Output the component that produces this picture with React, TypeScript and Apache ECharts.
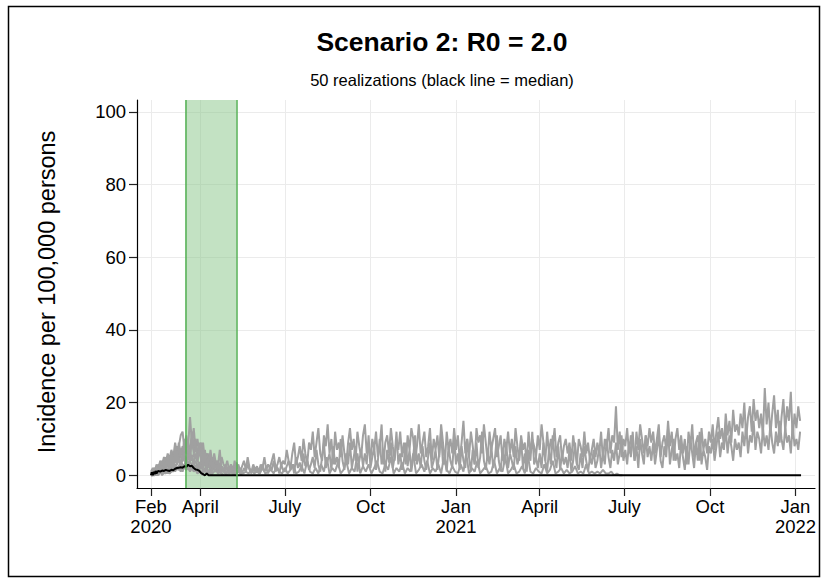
import React, { useEffect, useRef } from 'react';
import * as echarts from 'echarts';

// ---------- DATA ----------
const START = Date.UTC(2020, 1, 8); // first simulated day
const dayOf = (s: string) => Math.round((Date.parse(s + 'T00:00:00Z') - START) / 86400000);

const tickDates = ['2020-02-08', '2020-04-01', '2020-07-01', '2020-10-01', '2021-01-01', '2021-04-01', '2021-07-01', '2021-10-01', '2022-01-01'];
const tickLabels = ['Feb\n2020', 'April', 'July', 'Oct', 'Jan\n2021', 'April', 'July', 'Oct', 'Jan\n2022'];
const yTicks = [0, 20, 40, 60, 80, 100];
const bandDates = ['2020-03-16', '2020-05-10'];
const xRange = ['2020-01-24', '2022-01-22'];
const yRange = [-3.5, 103.3];

// persistent realizations, one value every 2 days from 2020-02-08
const p1Values = [
  0.5, 1.5, 0.5, 2, 1, 2.5, 1.5, 3, 2, 4, 2.5,
  5, 3, 6, 4, 8, 5, 4, 9, 6, 7, 5, 10, 6, 8, 4, 7,
  5, 3, 6, 2, 5, 4, 2, 6, 3, 4, 2, 5, 3, 2, 4,
  1.5, 3, 2, 1, 3.5, 2, 1, 2.5, 4, 1.5, 5, 2, 1, 3, 1.5,
  2.5, 1, 3, 2, 5, 1.5, 3, 2, 4, 6, 2, 3, 5, 2.5, 4,
  3, 7, 4, 2, 6, 9, 3, 5, 8, 4, 10, 6, 3, 9, 7, 12,
  5, 9, 13, 6, 4, 11, 8, 14, 6, 10, 3, 12, 7, 9, 5,
  11, 6, 3, 9, 13, 7, 10, 4, 12, 8, 5, 11, 14, 6, 9,
  4, 10, 7, 12, 5, 8, 14, 3, 9, 11, 6, 13, 8, 4, 10, 7,
  12, 5, 9, 3, 11, 7, 13, 10, 4, 8, 14, 6, 9, 12, 5,
  8, 13, 4, 10, 7, 11, 5, 14, 9, 3, 12, 7, 10, 6, 13,
  7, 11, 4, 9, 15, 6, 10, 5, 12, 8, 3, 13, 9, 11, 6, 14,
  9, 4, 12, 7, 10, 13, 5, 8, 11, 4, 10, 7, 12, 6,
  10, 5, 13, 8, 4, 11, 7, 9, 3, 12, 6, 10, 8, 5, 11,
  7, 14, 9, 4, 12, 6, 10, 8, 13, 5, 9, 11, 4, 8, 10,
  6, 9, 4, 11, 7, 3, 10, 8, 5, 12, 6, 9, 4, 7, 10, 5,
  9, 6, 12, 4, 10, 8, 13, 6, 11, 9, 19, 7, 12, 5, 10,
  8, 13, 6, 11, 9, 4, 12, 7, 14, 10, 6, 11, 8, 13, 9,
  12, 6, 10, 14, 5, 9, 11, 7, 15, 8, 12, 4, 10, 13, 7, 11,
  6, 10, 3, 12, 8, 14, 5, 9, 11, 4, 13, 7, 10, 6, 12,
  9, 14, 7, 12, 16, 10, 13, 8, 17, 11, 15, 9, 18, 12, 14,
  11, 17, 13, 20, 10, 16, 19, 12, 21, 15, 18, 13, 17, 11, 24,
  14, 20, 11, 17, 22, 13, 18, 9, 16, 21, 12, 19, 15, 23, 10, 17,
  13, 19, 15,
];
const p2Values = [
  0, 1, 0.5, 1.5, 0.5, 2, 1, 2.5, 1.5, 3, 2,
  3.5, 2, 4.5, 3, 5, 2.5, 6, 4, 3, 7, 4.5, 5, 3, 6, 4, 3,
  4, 2, 3.5, 1.5, 3, 2.5, 1, 4, 2, 3, 1.5, 2.5, 1, 3, 2,
  1, 2.5, 0.5, 2, 1.5, 3, 1, 0.5, 2, 1, 3, 1.5, 0.5, 2, 1,
  2, 0.5, 1.5, 3, 1, 2, 0.5, 2.5, 1.5, 4, 1, 2, 0.5, 3, 1.5,
  1, 2.5, 4, 1.5, 3, 0.5, 5, 2, 3.5, 1, 6, 2.5, 4, 1.5, 3, 5,
  2, 7, 3, 1, 5, 9, 2, 4, 6, 1.5, 8, 3, 5, 2, 10,
  4, 1.5, 6, 3, 9, 2, 5, 8, 1, 4, 7, 2.5, 6, 3, 11,
  2, 5, 8, 1.5, 4, 10, 3, 6, 1, 7, 3.5, 9, 2, 5, 12, 3,
  6, 1.5, 4, 9, 2.5, 7, 1, 5, 11, 3, 6, 2, 8, 4, 1.5,
  5, 9, 2, 4, 7, 1.5, 6, 12, 3, 5, 1, 8, 4, 2, 10,
  3, 6, 1.5, 8, 4, 2, 10, 5, 1, 7, 3, 9, 2, 5, 12, 4,
  1.5, 6, 3, 8, 2, 5, 11, 4, 1, 7, 3, 9, 2, 6,
  4, 1.5, 8, 3, 5, 10, 2, 6, 1, 7, 4, 12, 3, 5, 2,
  6, 2, 9, 4, 1, 7, 3, 11, 5, 2, 8, 1.5, 6, 3, 5,
  2, 7, 1, 4, 9, 3, 1.5, 6, 2, 8, 4, 1, 5, 3, 7, 2,
  4, 8, 2, 6, 3, 10, 5, 2, 7, 4, 9, 3, 6, 11, 4,
  7, 3, 9, 5, 12, 4, 8, 2, 10, 6, 3, 11, 5, 8, 4,
  9, 3, 7, 11, 4, 2, 8, 5, 13, 3, 7, 10, 4, 6, 2, 9,
  5, 1.5, 8, 3, 10, 6, 2, 9, 4, 12, 3, 7, 5, 1.5, 8,
  6, 10, 4, 8, 12, 5, 9, 7, 13, 6, 11, 8, 4, 10, 7,
  9, 5, 12, 8, 14, 6, 11, 9, 15, 7, 12, 10, 6, 13, 8,
  11, 7, 14, 9, 6, 12, 8, 15, 10, 7, 13, 9, 11, 6, 14, 8,
  10, 7, 12,
];
// low realization that dies out in mid 2021, one value every 3 days
const p3Values = [
  0, 0.5, 0, 1, 0.5, 1.5, 0.5, 2,
  1, 2.5, 1.5, 3, 2, 4, 1.5, 3, 2.5, 2,
  3, 1, 2, 0.5, 2.5, 1, 1.5, 0.5, 2, 1,
  0.5, 1.5, 0.5, 1, 2, 0.5, 1, 0.5, 1.5, 0.5,
  1, 0.5, 2, 0.5, 1, 1.5, 0.5, 2.5, 1, 0.5,
  2, 0.5, 1.5, 3, 0.5, 1, 2.5, 0.5, 4, 1, 0.5,
  2, 0.5, 3, 1, 5, 0.5, 2, 1, 3.5, 0.5,
  1.5, 4, 0.5, 2, 1, 6, 0.5, 2.5, 1, 3,
  0.5, 2, 4, 1, 0.5, 3, 1.5, 5, 0.5, 2,
  1, 3.5, 0.5, 2, 1, 6, 0.5, 1.5, 3, 1,
  4, 0.5, 2, 1, 3, 0.5, 5, 1.5, 0.5, 2.5, 1,
  0.5, 3, 1, 6, 0.5, 2, 1, 4, 0.5, 1.5,
  2.5, 0.5, 1, 4, 0.5, 2, 1, 5, 0.5,
  1.5, 3, 0.5, 1, 2.5, 0.5, 6, 1, 0.5, 2,
  1, 0.5, 3, 0.5, 1.5, 4, 0.5, 1, 2, 0.5,
  1.5, 0.5, 1, 2.5, 0.5, 1, 0.5, 3, 0.5, 1, 0.5,
  1, 0.5, 1.5, 0.5, 0.5, 1, 0, 0.5, 0, 0,
];
// realizations that die out after the lockdown, one value every 2 days from 2020-02-08
const e1Values = [
  1, 2, 1, 3, 2, 4, 3, 5, 3.5, 6, 4.5,
  7, 5, 9, 6, 8, 11, 12, 7, 10, 8, 16, 9, 13, 7, 10, 6,
  8, 4, 7, 3, 6, 2, 5, 3, 4, 1.5, 3, 1, 2, 0.5, 0,
];
const e2Values = [
  0.5, 1.5, 2, 1, 3, 2.5, 4, 2, 5, 3, 4,
  6, 4, 5, 8, 5, 7, 6, 10, 7, 9, 6, 12, 8, 10, 5, 9,
  6, 9, 4, 6, 3, 5, 2, 4, 3, 2, 1, 2.5, 1, 0.5, 0,
];
const e3Values = [
  0, 1, 0.5, 2, 1.5, 1, 3, 2, 2.5, 4, 3,
  3, 5, 4, 6, 3.5, 7, 5, 6, 8, 5, 7, 4, 6, 5, 4, 7,
  4, 5, 3, 6, 2, 7, 3, 4, 2, 3, 1.5, 2.5, 1, 2, 1.5,
  0.5, 1, 0.5, 0,
];
const e4Values = [
  0, 0.5, 1, 0.5, 1.5, 1, 2, 1.5, 2.5, 1, 3,
  2, 4, 2.5, 3, 5, 3.5, 4, 6, 3, 5, 4, 5.5, 3, 4, 2.5, 3.5,
  2, 3, 4, 2, 3.5, 1.5, 2.5, 2, 1, 2.5, 7, 1, 1.5, 0.5, 1,
  0.5, 1, 0.5, 4, 0.5, 1, 0.5, 0,
];
const e5Values = [
  0, 0, 0.5, 0, 1, 0.5, 1.5, 1, 0.5, 2, 1.5,
  2, 1.5, 3, 2, 2.5, 4, 3, 2.5, 5, 3, 4, 2.5, 3.5, 2, 3, 1.5,
  2.5, 1, 2, 1.5, 1, 2, 0.5, 1, 1.5, 0.5, 1, 0.5, 0,
];
const e6Values = [
  0, 0, 0, 0.5, 0, 1, 0.5, 0.5, 1.5, 1, 0.5,
  1.5, 1, 2, 1.5, 2.5, 1, 3, 2, 1.5, 3.5, 2, 2.5, 1.5, 2, 1, 1.5,
  1, 0.5, 1.5, 0.5, 1, 0.5, 0,
];
const e7Values = [
  0, 1, 0.5, 2, 1, 3, 2, 4, 2.5, 5, 3.5,
  6, 4, 7, 5, 9, 6, 8, 7, 11, 8, 6, 10, 7, 9, 5, 8,
  9, 4, 6, 3, 5, 2, 4, 1.5, 3, 1, 2, 0.5, 0,
];
const e8Values = [
  0, 0, 0.5, 0, 0.5, 1, 0, 1, 0.5, 1.5, 0.5,
  1, 2, 1, 2.5, 1.5, 2, 1, 3, 1.5, 2, 1, 2, 1, 1.5, 0.5, 1,
  0.5, 0,
];
// median of the 50 realizations
const medianDays = [0, 1, 2, 3, 4, 5, 6, 7, 8, 10, 12, 14, 16, 18, 20, 22, 24, 26, 28, 30, 32, 34, 36, 38, 40, 42, 44, 46, 48, 50, 52, 54, 56, 58, 60, 62, 699];
const medianValues = [0, 0.8, 0, 1, 0.3, 1.2, 0.5, 1, 1.2, 1, 1.3, 1.2, 1.5, 1.3, 1.2, 1.5, 1.4, 1.8, 2, 2.1, 2.2, 2.1, 2.5, 2.3, 2.9, 2.5, 2.6, 2, 1.6, 1.5, 1.2, 0.6, 0.3, 0, 0.5, 0, 0];

// ---------- CHART ----------
const FONT = '"Liberation Sans", Arial, Helvetica, sans-serif';
const GRAY = '#a0a0a0';

const toPairs = (vals: number[], step: number) => vals.map((v, i) => [i * step, v]);

export default function App() {
  const ref = useRef<HTMLDivElement>(null);

  useEffect(() => {
    if (!ref.current) return;
    const chart = echarts.init(ref.current, undefined, { renderer: 'svg' });
    const tickDays = tickDates.map(dayOf);
    const labelFor = (v: number) => {
      const i = tickDays.findIndex((d) => Math.abs(d - v) < 0.5);
      return i >= 0 ? tickLabels[i] : '';
    };
    const bandDays = bandDates.map(dayOf);

    const grayList: [number[], number][] = [
      [e1Values, 2], [e2Values, 2], [e3Values, 2], [e4Values, 2], [e5Values, 2], [e6Values, 2], [e7Values, 2], [e8Values, 2],
      [p3Values, 3], [p2Values, 2], [p1Values, 2],
    ];

    const graySeries = grayList.map(([vals, step]) => ({
      type: 'line',
      data: toPairs(vals, step),
      showSymbol: false,
      symbol: 'none',
      z: 3,
      silent: true,
      lineStyle: { color: GRAY, width: 2 },
    }));

    chart.setOption({
      animation: false,
      backgroundColor: '#ffffff',
      grid: { left: 137, right: 9, top: 100, bottom: 94 },
      graphic: [
        {
          type: 'rect',
          shape: { x: 8.5, y: 6.5, width: 811, height: 570 },
          style: { fill: 'none', stroke: '#000', lineWidth: 1.5 },
          silent: true,
        },
        {
          type: 'text',
          x: 442,
          y: 42,
          style: { text: 'Scenario 2: R0 = 2.0', align: 'center', verticalAlign: 'middle', font: `bold 26.5px ${FONT}`, fill: '#000' },
        },
        {
          type: 'text',
          x: 442,
          y: 80,
          style: { text: '50 realizations (black line = median)', align: 'center', verticalAlign: 'middle', font: `16.5px ${FONT}`, fill: '#000' },
        },
        {
          type: 'text',
          x: 47,
          y: 292,
          rotation: Math.PI / 2,
          style: { text: 'Incidence per 100,000 persons', align: 'center', verticalAlign: 'middle', font: `23.5px ${FONT}`, fill: '#000' },
        },
      ],
      xAxis: {
        type: 'value',
        min: dayOf(xRange[0]),
        max: dayOf(xRange[1]),
        axisLine: { show: true, onZero: false, lineStyle: { color: '#000', width: 1.2 } },
        axisTick: { show: true, length: 8, customValues: tickDays, lineStyle: { color: '#222', width: 1.2 } },
        axisLabel: {
          customValues: tickDays,
          formatter: (v: number) => labelFor(v),
          color: '#000',
          fontSize: 18.5,
          fontFamily: FONT,
          lineHeight: 20,
          margin: 8,
        },
        splitLine: { show: true, lineStyle: { color: '#ebebeb', width: 1 } },
      },
      yAxis: {
        type: 'value',
        min: yRange[0],
        max: yRange[1],
        axisLine: { show: true, onZero: false, lineStyle: { color: '#000', width: 1.2 } },
        axisTick: { show: true, length: 8, customValues: yTicks, lineStyle: { color: '#222', width: 1.2 } },
        axisLabel: {
          customValues: yTicks,
          color: '#000',
          fontSize: 18.5,
          fontFamily: FONT,
          margin: 11,
        },
        splitLine: { show: true, lineStyle: { color: '#ebebeb', width: 1 } },
      },
      series: [
        {
          type: 'line',
          data: [[bandDays[0], 50]],
          symbol: 'none',
          showSymbol: false,
          silent: true,
          z: 2,
          lineStyle: { opacity: 0 },
          markArea: {
            silent: true,
            itemStyle: { color: 'rgba(140,200,140,0.52)' },
            data: [[{ xAxis: bandDays[0] }, { xAxis: bandDays[1] }]],
          },
          markLine: {
            silent: true,
            symbol: ['none', 'none'],
            label: { show: false },
            lineStyle: { color: '#55b055', width: 1.5, type: 'solid' },
            data: [{ xAxis: bandDays[0] }, { xAxis: bandDays[1] }],
          },
        },
        ...graySeries,
        {
          type: 'line',
          data: medianDays.map((d, i) => [d, medianValues[i]]),
          showSymbol: false,
          symbol: 'none',
          z: 4,
          silent: true,
          lineStyle: { color: '#000', width: 2 },
        },
      ],
    });
    return () => chart.dispose();
  }, []);

  return <div ref={ref} style={{ position: 'absolute', left: 0, top: 0, width: 824, height: 582 }} />;
}
